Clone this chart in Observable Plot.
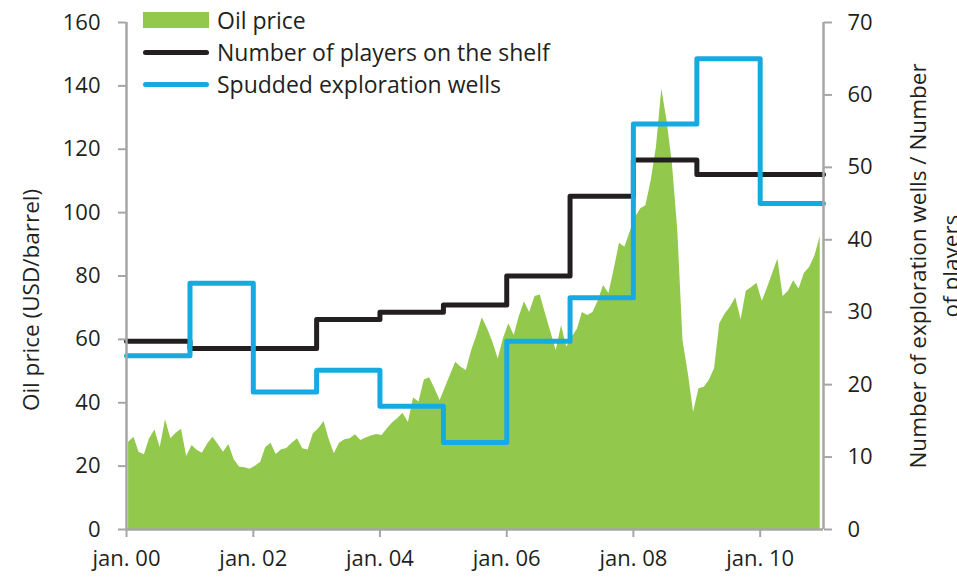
<!DOCTYPE html>
<html>
<head>
<meta charset="utf-8">
<script src="https://cdn.jsdelivr.net/npm/d3@7"></script>
<script src="https://cdn.jsdelivr.net/npm/@observablehq/plot@0.6"></script>
<style>
  html, body { margin: 0; padding: 0; background: #fff; }
  #wrap { position: relative; width: 957px; height: 580px; overflow: hidden; font-family: "Open Sans", sans-serif; color: #231f20; }
  #chart svg { display: block; }
  .legend { position: absolute; left: 143px; top: 4px; font-size: 23px; line-height: 32px; }
  .legend .row { display: flex; align-items: center; height: 32px; }
  .legend .sw { width: 66px; margin-right: 8px; }
  .legend .area { height: 16px; background: #92c84c; }
  .legend .ln { height: 5px; border-radius: 3px; }
  .title { position: absolute; font-size: 22.5px; line-height: 33px; text-align: center; white-space: nowrap; transform: translate(-50%, -50%) rotate(-90deg); }
</style>
</head>
<body>
<div id="wrap">
  <div id="chart"></div>
  <div class="legend" id="legend"></div>
  <div class="title" style="left:30px; top:300px;">Oil price (USD/barrel)</div>
  <div class="title" style="left:934px; top:266px;">Number of exploration wells / Number<br>of players</div>
</div>
<script>
// ---- Data ----
const oilStartYear = 2000;
const oilPrice = [
  27.5, 29.1, 24.4, 23.6, 28.6, 31.4, 25.8, 34.6, 28.6, 30.4, 31.6, 23.0,
  26.5, 24.9, 24.1, 27.0, 29.1, 26.8, 24.4, 26.8, 22.0, 19.7, 19.5, 19.0,
  20.0, 21.2, 25.8, 27.2, 23.7, 25.2, 25.6, 27.2, 28.6, 25.5, 25.1, 30.2,
  31.8, 34.1, 28.6, 23.9, 27.2, 28.3, 28.6, 29.9, 28.1, 28.9, 29.5, 30.0,
  29.7, 31.8, 33.6, 35.0, 36.7, 33.8, 41.5, 40.2, 47.2, 47.9, 44.4, 40.7,
  44.9, 49.1, 52.8, 51.2, 50.2, 56.5, 61.2, 66.8, 63.3, 59.1, 53.8, 60.2,
  64.9, 61.2, 67.0, 71.9, 68.5, 73.5, 74.0, 68.0, 62.2, 56.5, 64.4, 57.5,
  60.7, 63.3, 68.5, 67.5, 68.5, 72.2, 77.0, 74.5, 82.2, 90.3, 89.1, 93.8,
  98.5, 101.2, 102.2, 110.1, 120.6, 139.0, 129.0, 115.4, 94.3, 59.6, 49.1, 37.0,
  44.4, 44.9, 47.0, 50.7, 64.9, 68.0, 70.1, 73.1, 66.2, 75.2, 76.4, 77.7,
  72.0, 76.4, 80.6, 85.4, 73.5, 75.2, 78.5, 75.9, 80.9, 82.7, 86.4, 92.4
];
const years = [2000, 2001, 2002, 2003, 2004, 2005, 2006, 2007, 2008, 2009, 2010];
const players = [26, 25, 25, 29, 30, 31, 35, 46, 51, 49, 49];
const wells   = [24, 34, 19, 22, 17, 12, 26, 32, 56, 65, 45];
const endYear = 2011;

const leftTicks = [0, 20, 40, 60, 80, 100, 120, 140, 160];
const rightTicks = [0, 10, 20, 30, 40, 50, 60, 70];
const seriesNames = ["Oil price", "Number of players on the shelf", "Spudded exploration wells"];
const colors = { oil: "#92c84c", players: "#231f20", wells: "#16aae3", axis: "#a6a6a6" };

// ---- Build tables ----
const oil = oilPrice.map((v, i) => ({ date: new Date(Date.UTC(oilStartYear, i, 13)), price: v }));
function stepTable(vals) {
  const t = years.map((y, i) => ({ date: new Date(Date.UTC(y, 0, 1)), v: vals[i] }));
  t.push({ date: new Date(Date.UTC(endYear, 0, 1)), v: vals[vals.length - 1] });
  return t;
}
const playersData = stepTable(players);
const wellsData = stepTable(wells);
const k = 160 / 70; // right axis -> left axis
const x0 = new Date(Date.UTC(years[0], 0, 1));
const x1 = new Date(Date.UTC(endYear, 0, 1));

const chart = Plot.plot({
  width: 957,
  height: 580,
  marginLeft: 126,
  marginRight: 134,
  marginTop: 22,
  marginBottom: 51,
  style: { fontFamily: "Open Sans, sans-serif", fontSize: "22px", color: "#231f20", background: "#fff" },
  x: { type: "utc", domain: [x0, x1] },
  y: { domain: [0, 160] },
  marks: [
    Plot.areaY(oil, { x: "date", y: "price", fill: colors.oil }),
    Plot.lineY(playersData, { x: "date", y: d => d.v * k, stroke: colors.players, strokeWidth: 5, curve: "step-after", strokeLinejoin: "round" }),
    Plot.lineY(wellsData, { x: "date", y: d => d.v * k, stroke: colors.wells, strokeWidth: 5, curve: "step-after", strokeLinejoin: "round" }),
    Plot.ruleY([0], { stroke: colors.axis, strokeWidth: 2.5 }),
    Plot.ruleX([x0], { stroke: colors.axis, strokeWidth: 2.5 }),
    Plot.ruleX([x1], { stroke: colors.axis, strokeWidth: 2.5 }),
    Plot.axisY({ ticks: leftTicks, tickSize: 8, tickPadding: 18, label: null, stroke: colors.axis, strokeWidth: 2, fill: "#231f20" }),
    Plot.axisY({ anchor: "right", ticks: rightTicks.map(v => v * k), tickFormat: v => String(Math.round(v / k)), tickSize: 8, tickPadding: 16, label: null, stroke: colors.axis, strokeWidth: 2, fill: "#231f20" }),
    Plot.axisX({ ticks: d3.utcYear.every(2), tickFormat: d => "jan. " + d3.utcFormat("%y")(d), tickSize: 8, tickPadding: 13, label: null, stroke: colors.axis, strokeWidth: 2, fill: "#231f20" })
  ]
});
document.getElementById("chart").appendChild(chart);

// ---- Legend ----
const legend = document.getElementById("legend");
const swatchClass = ["area", "ln", "ln"];
const swatchColor = [colors.oil, colors.players, colors.wells];
seriesNames.forEach((name, i) => {
  const row = document.createElement("div");
  row.className = "row";
  const sw = document.createElement("div");
  sw.className = "sw " + swatchClass[i];
  sw.style.background = swatchColor[i];
  const tx = document.createElement("span");
  tx.textContent = name;
  row.appendChild(sw);
  row.appendChild(tx);
  legend.appendChild(row);
});
</script>
</body>
</html>
